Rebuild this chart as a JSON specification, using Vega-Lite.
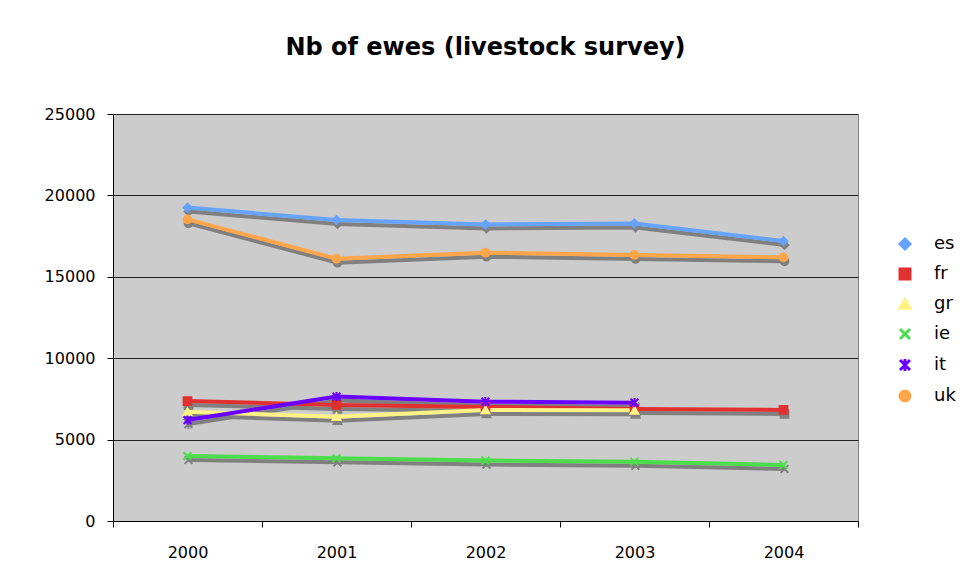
{
  "$schema": "https://vega.github.io/schema/vega-lite/v6.json",
  "autosize": "none",
  "width": 745,
  "height": 407,
  "padding": {"left": 113, "top": 114, "right": 106, "bottom": 57},
  "background": "white",
  "title": {
    "text": "Nb of ewes (livestock survey)",
    "font": "DejaVu Sans",
    "fontSize": 24,
    "fontWeight": "bold",
    "color": "black",
    "anchor": "middle",
    "offset": 46
  },
  "config": {
    "view": {"fill": "#cccccc", "stroke": "#808080", "strokeWidth": 1},
    "axis": {"labelFont": "DejaVu Sans", "labelFontSize": 16, "labelColor": "black", "domainColor": "black", "tickColor": "black", "title": null},
    "legend": {
      "labelFont": "DejaVu Sans", "labelFontSize": 18, "labelColor": "black",
      "orient": "none", "legendX": 783, "legendY": 121, "rowPadding": 8,
      "symbolSize": 100, "symbolStrokeWidth": 3, "labelOffset": 20
    }
  },
  "data": {
    "values": [
      {"year": "2000", "series": "es", "value": 19250},
      {"year": "2001", "series": "es", "value": 18490},
      {"year": "2002", "series": "es", "value": 18220},
      {"year": "2003", "series": "es", "value": 18280},
      {"year": "2004", "series": "es", "value": 17200},
      {"year": "2000", "series": "fr", "value": 7370},
      {"year": "2001", "series": "fr", "value": 7130},
      {"year": "2002", "series": "fr", "value": 7000},
      {"year": "2003", "series": "fr", "value": 6880},
      {"year": "2004", "series": "fr", "value": 6820},
      {"year": "2000", "series": "gr", "value": 6710},
      {"year": "2001", "series": "gr", "value": 6410},
      {"year": "2002", "series": "gr", "value": 6820},
      {"year": "2003", "series": "gr", "value": 6800},
      {"year": "2000", "series": "ie", "value": 3990},
      {"year": "2001", "series": "ie", "value": 3850},
      {"year": "2002", "series": "ie", "value": 3710},
      {"year": "2003", "series": "ie", "value": 3640},
      {"year": "2004", "series": "ie", "value": 3440},
      {"year": "2000", "series": "it", "value": 6200},
      {"year": "2001", "series": "it", "value": 7640},
      {"year": "2002", "series": "it", "value": 7330},
      {"year": "2003", "series": "it", "value": 7270},
      {"year": "2000", "series": "uk", "value": 18530},
      {"year": "2001", "series": "uk", "value": 16110},
      {"year": "2002", "series": "uk", "value": 16480},
      {"year": "2003", "series": "uk", "value": 16340},
      {"year": "2004", "series": "uk", "value": 16200}
    ]
  },
  "encoding": {
    "x": {
      "field": "year", "type": "ordinal",
      "scale": {"type": "band", "paddingInner": 0, "paddingOuter": 0},
      "axis": {"labelAngle": 0, "tickBand": "extent", "tickSize": 6, "labelPadding": 17, "grid": false, "domainColor": "black"}
    },
    "y": {
      "field": "value", "type": "quantitative",
      "scale": {"domain": [0, 25000], "nice": false},
      "axis": {"values": [0, 5000, 10000, 15000, 20000, 25000], "format": "d", "grid": true, "gridColor": "#222222", "gridWidth": 1, "gridOpacity": 1, "tickSize": 6, "labelPadding": 12}
    }
  },
  "layer": [
    {
      "mark": {"type": "line", "stroke": "#808080", "strokeWidth": 4, "xOffset": 1, "yOffset": 4},
      "encoding": {"detail": {"field": "series"}}
    },
    {
      "mark": {"type": "point", "filled": true, "fill": "#808080", "stroke": "#808080", "strokeWidth": 2, "opacity": 1, "size": 60, "xOffset": 1, "yOffset": 4},
      "encoding": {
        "shape": {"field": "series", "title": null, "scale": {"domain": ["es", "fr", "gr", "ie", "it", "uk"], "range": ["diamond", "square", "triangle-up", "M-1,-1L1,1M-1,1L1,-1", "M-1,-1L1,1M-1,1L1,-1M0,-1.2L0,1.2", "circle"]},
          "legend": {"encode": {"symbols": {"update": {"shape": {"signal": "datum.value==='es' ? 'M-5,0L5,0M0,-1.1L1,0L0,1.1L-1,0Z' : datum.value==='fr' ? 'M-5,0L5,0M-0.9,-0.9H0.9V0.9H-0.9Z' : datum.value==='gr' ? 'M-5,0L5,0M0,-1L1,0.8H-1Z' : datum.value==='ie' ? 'M-5,0L5,0M-0.8,-0.8L0.8,0.8M-0.8,0.8L0.8,-0.8' : datum.value==='it' ? 'M-5,0L5,0M-0.8,-0.8L0.8,0.8M-0.8,0.8L0.8,-0.8M0,-1L0,1' : 'M-5,0L5,0M-0.9,0A0.9,0.9,0,1,0,0.9,0A0.9,0.9,0,1,0,-0.9,0Z'"}}}}}
        }
      }
    },
    {
      "mark": {"type": "line", "strokeWidth": 4},
      "encoding": {
        "stroke": {"field": "series", "title": null, "scale": {"domain": ["es", "fr", "gr", "ie", "it", "uk"], "range": ["#66A3FF", "#E03030", "#FFF385", "#4CDD4C", "#6A00FF", "#FFA54A"]},
          "legend": {"encode": {"symbols": {"update": {"shape": {"signal": "datum.value==='es' ? 'M-5,0L5,0M0,-1.1L1,0L0,1.1L-1,0Z' : datum.value==='fr' ? 'M-5,0L5,0M-0.9,-0.9H0.9V0.9H-0.9Z' : datum.value==='gr' ? 'M-5,0L5,0M0,-1L1,0.8H-1Z' : datum.value==='ie' ? 'M-5,0L5,0M-0.8,-0.8L0.8,0.8M-0.8,0.8L0.8,-0.8' : datum.value==='it' ? 'M-5,0L5,0M-0.8,-0.8L0.8,0.8M-0.8,0.8L0.8,-0.8M0,-1L0,1' : 'M-5,0L5,0M-0.9,0A0.9,0.9,0,1,0,0.9,0A0.9,0.9,0,1,0,-0.9,0Z'"}}}}}
        }
      }
    },
    {
      "mark": {"type": "point", "filled": true, "strokeWidth": 2, "opacity": 1, "size": 60},
      "encoding": {
        "fill": {"field": "series", "title": null, "scale": {"domain": ["es", "fr", "gr", "ie", "it", "uk"], "range": ["#66A3FF", "#E03030", "#FFF385", "#4CDD4C", "#6A00FF", "#FFA54A"]},
          "legend": {"encode": {"symbols": {"update": {"shape": {"signal": "datum.value==='es' ? 'M-5,0L5,0M0,-1.1L1,0L0,1.1L-1,0Z' : datum.value==='fr' ? 'M-5,0L5,0M-0.9,-0.9H0.9V0.9H-0.9Z' : datum.value==='gr' ? 'M-5,0L5,0M0,-1L1,0.8H-1Z' : datum.value==='ie' ? 'M-5,0L5,0M-0.8,-0.8L0.8,0.8M-0.8,0.8L0.8,-0.8' : datum.value==='it' ? 'M-5,0L5,0M-0.8,-0.8L0.8,0.8M-0.8,0.8L0.8,-0.8M0,-1L0,1' : 'M-5,0L5,0M-0.9,0A0.9,0.9,0,1,0,0.9,0A0.9,0.9,0,1,0,-0.9,0Z'"}}}}}
        },
        "stroke": {"field": "series", "title": null},
        "shape": {"field": "series", "title": null}
      }
    }
  ]
}
